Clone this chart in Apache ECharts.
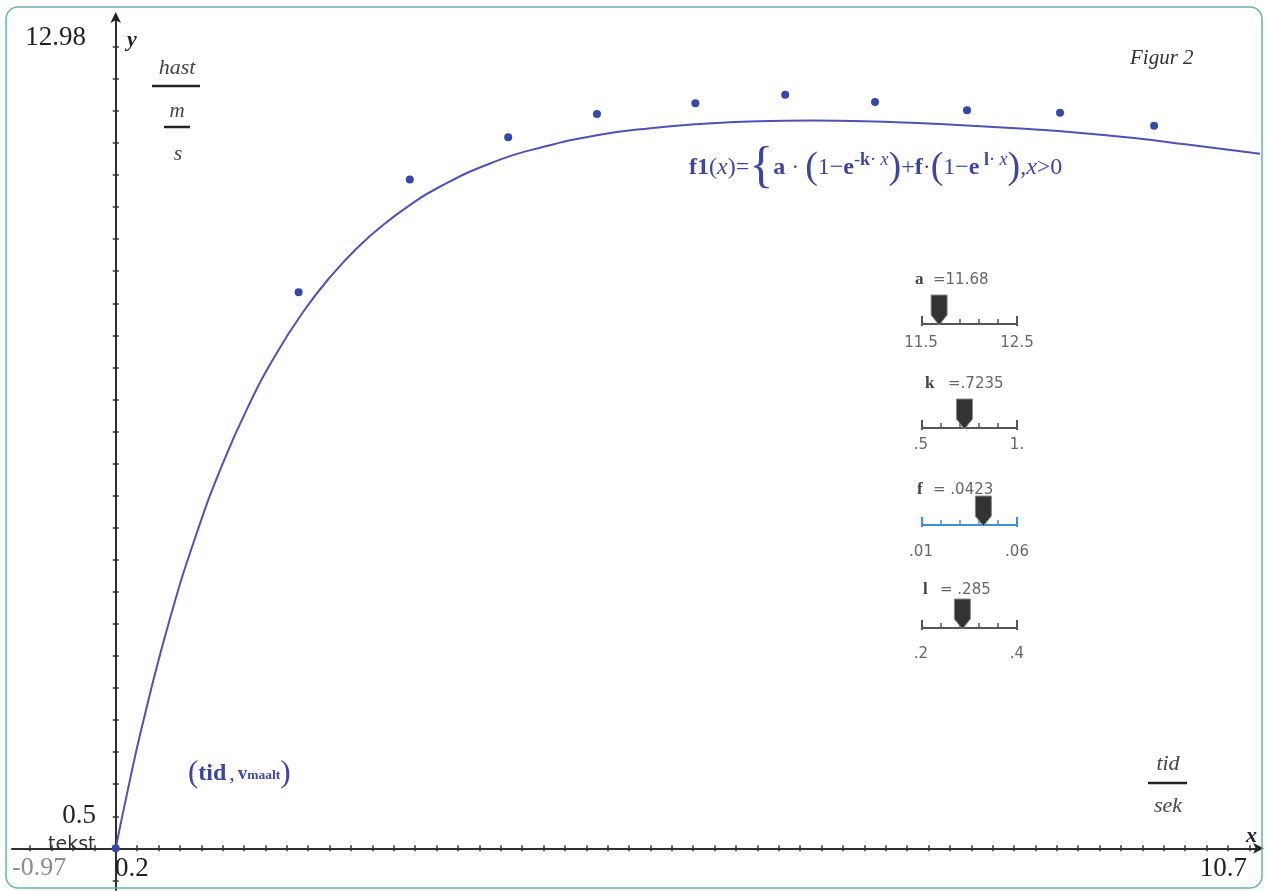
<!DOCTYPE html>
<html>
<head>
<meta charset="utf-8">
<title>Figur 2</title>
<script src="https://cdn.jsdelivr.net/npm/echarts@6.0.0/dist/echarts.min.js"></script>
<style>
  html, body { margin: 0; padding: 0; background: #fff; }
  #chart { width: 1268px; height: 891px; }
</style>
</head>
<body>
<div id="chart"></div>
<script>
// målte punkter (tid, v_maalt)
const tid = [0, 1.71, 2.75, 3.67, 4.50, 5.42, 6.26, 7.10, 7.96, 8.83, 9.71]
const vMaalt = [0, 8.67, 10.43, 11.09, 11.45, 11.62, 11.75, 11.64, 11.51, 11.47, 11.27]

// f1
const kurveX = [0, 0.1, 0.25, 0.5, 0.75, 1, 1.25, 1.5, 1.75, 2, 2.25, 2.5, 2.75, 3, 3.5, 4, 4.5, 5, 5.5, 6, 6.5, 7, 7.5, 8, 8.5, 9, 9.5, 10, 10.7]
const kurveY = [0, 0.81, 1.93, 3.54, 4.88, 6.00, 6.93, 7.71, 8.36, 8.90, 9.35, 9.72, 10.03, 10.29, 10.68, 10.94, 11.12, 11.23, 11.30, 11.34, 11.35, 11.34, 11.31, 11.27, 11.22, 11.16, 11.08, 10.98, 10.83]

// vindu
const xMin = -0.97, xMax = 10.7, xScl = 0.2
const yMin = -0.65, yMax = 12.98, yScl = 0.5
const vinduTekst = ['12.98', '0.5', '-0.97', '0.2', '10.7']

// glidere
const glidere = [
  { navn: 'a', verdi: 11.68, tekst: '=11.68', min: 11.5, maks: 12.5, minTekst: '11.5', maksTekst: '12.5' },
  { navn: 'k', verdi: 0.7235, tekst: '=.7235', min: 0.5, maks: 1, minTekst: '.5', maksTekst: '1.' },
  { navn: 'f', verdi: 0.0423, tekst: '= .0423', min: 0.01, maks: 0.06, minTekst: '.01', maksTekst: '.06' },
  { navn: 'l', verdi: 0.285, tekst: '= .285', min: 0.2, maks: 0.4, minTekst: '.2', maksTekst: '.4' },
]

const xTicks = []
for (let v = Math.ceil(xMin / xScl) * xScl; v <= xMax; v += xScl) xTicks.push(Math.round(v * 10) / 10)
const yTicks = []
for (let v = Math.ceil(yMin / yScl) * yScl; v <= yMax; v += yScl) yTicks.push(Math.round(v * 10) / 10)

const serif = '"Liberation Serif", "DejaVu Serif", serif'
const sans = '"DejaVu Sans", sans-serif'
const blaa = '#3d45a0'

function tekst(x, y, t, font, fill, align) {
  return {
    type: 'text', x: x, y: y, silent: true,
    style: { text: t, font: font, fill: fill || '#222', align: align || 'left', textAlign: align || 'left', verticalAlign: 'middle', textVerticalAlign: 'middle' }
  }
}
function strek(x1, y1, x2, y2, farge, b) {
  return { type: 'line', silent: true, shape: { x1: x1, y1: y1, x2: x2, y2: y2 }, style: { stroke: farge || '#222', lineWidth: b || 2 } }
}

const grafikk = []
// vindustekster
grafikk.push(tekst(86, 38, vinduTekst[0], '27px ' + serif, '#222', 'right'))
grafikk.push(tekst(96, 816, vinduTekst[1], '27px ' + serif, '#222', 'right'))
grafikk.push(tekst(12, 868, vinduTekst[2], '26px ' + serif, '#8a8a8a'))
grafikk.push(tekst(115, 869, vinduTekst[3], '27px ' + serif, '#222'))
grafikk.push(tekst(1247, 869, vinduTekst[4], '27px ' + serif, '#222', 'right'))
grafikk.push(tekst(48, 845, 'tekst', '19px ' + sans, '#333'))
grafikk.push(tekst(127, 40, 'y', 'italic bold 22px ' + serif, '#222'))
grafikk.push(tekst(1246, 836, 'x', 'italic bold 22px ' + serif, '#222'))
grafikk.push(tekst(1130, 58, 'Figur 2', 'italic 21px ' + serif, '#333'))

// hast / m / s
grafikk.push(tekst(177, 68, 'hast', 'italic 22px ' + serif, '#444', 'center'))
grafikk.push(strek(152, 86, 200, 86, '#222', 2.5))
grafikk.push(tekst(177, 111, 'm', 'italic 21px ' + serif, '#444', 'center'))
grafikk.push(strek(164, 127, 190, 127, '#222', 2.5))
grafikk.push(tekst(178, 154, 's', 'italic 22px ' + serif, '#444', 'center'))

// tid / sek
grafikk.push(tekst(1168, 764, 'tid', 'italic 22px ' + serif, '#444', 'center'))
grafikk.push(strek(1148, 783, 1187, 783, '#222', 2.5))
grafikk.push(tekst(1168, 806, 'sek', 'italic 22px ' + serif, '#444', 'center'))

// f1(x)
grafikk.push({
  type: 'text', x: 689, y: 168, silent: true,
  style: {
    text: '{b|f1}{n|(}{i|x}{n|)=}{br|{}{b|a}{n| · }{p|(}{n|1−}{b|e}{sn|-}{sb|k}{sn|·}{si| x}{p|)}{n|+}{b|f}{n|·}{p|(}{n|1−}{b|e}{sb| l}{sn|·}{si| x}{p|)}{n|,}{i|x}{n|>0}',
    fill: blaa, align: 'left', textAlign: 'left', verticalAlign: 'middle', textVerticalAlign: 'middle',
    rich: {
      b: { fontFamily: serif, fontWeight: 'bold', fontSize: 24, fill: blaa },
      n: { fontFamily: serif, fontSize: 24, fill: blaa },
      i: { fontFamily: serif, fontStyle: 'italic', fontSize: 24, fill: blaa },
      br: { fontFamily: serif, fontSize: 50, fill: blaa },
      p: { fontFamily: serif, fontSize: 38, fill: blaa },
      sb: { fontFamily: serif, fontWeight: 'bold', fontSize: 18, fill: blaa, verticalAlign: 'top', padding: [8, 0, 0, 0] },
      sn: { fontFamily: serif, fontSize: 18, fill: blaa, verticalAlign: 'top', padding: [8, 0, 0, 0] },
      si: { fontFamily: serif, fontStyle: 'italic', fontSize: 18, fill: blaa, verticalAlign: 'top', padding: [8, 0, 0, 0] }
    }
  }
})

// (tid, v_maalt)
grafikk.push({
  type: 'text', x: 188, y: 774, silent: true,
  style: {
    text: '{p|(}{b|tid}{n|,}{v|v}{vs|maalt}{p|)}',
    fill: blaa, align: 'left', textAlign: 'left', verticalAlign: 'middle', textVerticalAlign: 'middle',
    rich: {
      p: { fontFamily: serif, fontSize: 31, fill: blaa },
      b: { fontFamily: serif, fontWeight: 'bold', fontSize: 24, fill: blaa },
      n: { fontFamily: serif, fontSize: 22, fill: blaa, padding: [0, 3, 0, 3] },
      v: { fontFamily: serif, fontWeight: 'bold', fontSize: 19, fill: blaa },
      vs: { fontFamily: serif, fontWeight: 'bold', fontSize: 13.5, fill: blaa, verticalAlign: 'bottom', padding: [0, 0, 7, 0] }
    }
  }
})

// glidere
const gx0 = 922, gx1 = 1017
const gLinjeY = [324, 428, 525, 628]
const gEtikettY = [280, 384, 490, 590]
const gNavnX = [915, 925, 917, 923]
const gVerdiX = [933, 948, 933, 940]
const gSkalaY = [343, 445, 552, 654]
glidere.forEach(function (g, i) {
  const ly = gLinjeY[i]
  const farge = g.navn === 'f' ? '#3d8fd8' : '#555'
  grafikk.push(tekst(gNavnX[i], gEtikettY[i], g.navn, 'bold 17px ' + serif, '#444'))
  grafikk.push(tekst(gVerdiX[i], gEtikettY[i], g.tekst, '15px ' + sans, '#666'))
  grafikk.push(strek(gx0, ly, gx1, ly, farge, 2))
  grafikk.push(strek(gx0, ly - 8, gx0, ly + 2, farge, 2))
  grafikk.push(strek(gx1, ly - 8, gx1, ly + 2, farge, 2))
  for (let j = 1; j < 5; j++) {
    const tx = gx0 + j * (gx1 - gx0) / 5
    grafikk.push(strek(tx, ly - 5, tx, ly, farge, 1.5))
  }
  const px = gx0 + (g.verdi - g.min) / (g.maks - g.min) * (gx1 - gx0)
  grafikk.push({
    type: 'polygon', silent: true,
    shape: { points: [[px - 8, ly - 29], [px + 8, ly - 29], [px + 8, ly - 9], [px, ly + 1], [px - 8, ly - 9]] },
    style: { fill: '#333', stroke: '#888', lineWidth: 1 }
  })
  grafikk.push(tekst(gx0 - 1, gSkalaY[i], g.minTekst, '15px ' + sans, '#666', 'center'))
  grafikk.push(tekst(gx1, gSkalaY[i], g.maksTekst, '15px ' + sans, '#666', 'center'))
})

// ramme
grafikk.push({
  type: 'rect', silent: true, z: 100,
  shape: { x: 6, y: 7, width: 1256, height: 881, r: 12 },
  style: { fill: 'none', stroke: '#6aaeb6', lineWidth: 1.5 }
})

const aksefarge = '#222'
function xAkse(pos, hoved) {
  return {
    type: 'value', min: xMin, max: xMax, position: pos,
    axisLine: { show: true, onZero: true, onZeroAxisIndex: hoved ? 0 : 1, symbol: hoved ? ['none', 'arrow'] : 'none', symbolSize: [8, 11], symbolOffset: [0, 4], lineStyle: { color: aksefarge, width: 1.5 } },
    axisTick: { show: true, length: 3, customValues: xTicks, lineStyle: { color: '#333', width: 1.5 } },
    axisLabel: { show: false },
    splitLine: { show: false }
  }
}
function yAkse(pos, hoved) {
  return {
    type: 'value', min: yMin, max: yMax, position: pos,
    axisLine: { show: true, onZero: true, onZeroAxisIndex: hoved ? 0 : 1, symbol: hoved ? ['none', 'arrow'] : 'none', symbolSize: [8, 11], symbolOffset: [0, 4], lineStyle: { color: aksefarge, width: 1.5 } },
    axisTick: { show: true, length: 3, customValues: yTicks, lineStyle: { color: '#333', width: 1.5 } },
    axisLabel: { show: false },
    splitLine: { show: false }
  }
}

const kurve = kurveX.map(function (x, i) { return [x, kurveY[i]] })
const punkter = tid.map(function (t, i) { return [t, vMaalt[i]] })

const chart = echarts.init(document.getElementById('chart'))
chart.setOption({
  animation: false,
  backgroundColor: '#fff',
  grid: { left: 12, right: 8, top: 16, bottom: 1, containLabel: false },
  xAxis: [xAkse('bottom', true), xAkse('top', false)],
  yAxis: [yAkse('left', true), yAkse('right', false)],
  series: [
    {
      type: 'line', data: kurve, smooth: true, showSymbol: false, symbol: 'none',
      lineStyle: { color: '#4f52b3', width: 2 }, clip: true, z: 3
    },
    {
      type: 'scatter', data: punkter, symbolSize: 8,
      itemStyle: { color: '#3548a8', opacity: 1 }, z: 4
    }
  ],
  graphic: grafikk
})
</script>
</body>
</html>
